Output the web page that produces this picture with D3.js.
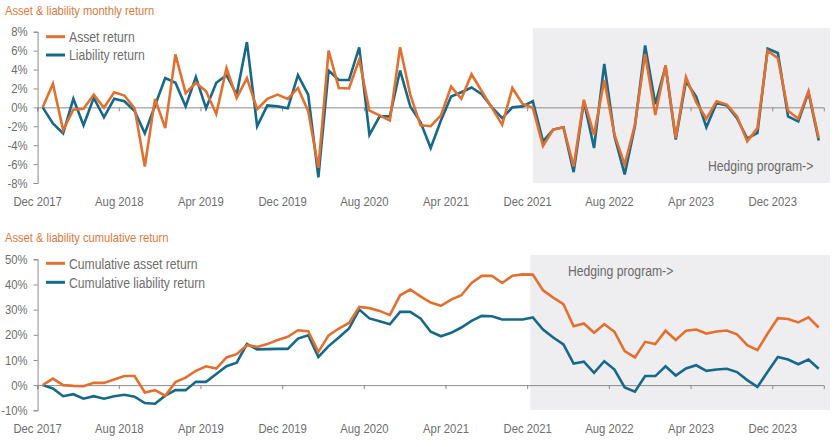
<!DOCTYPE html>
<html><head><meta charset="utf-8">
<script src="https://cdn.jsdelivr.net/npm/d3@7"></script>
<style>
html,body{margin:0;padding:0;background:#fff;}
text{font-family:"Liberation Sans",Arial,sans-serif;}
</style></head>
<body><svg id="c" width="836" height="447"></svg>
<script>
// ---- data ----
const months = d3.timeMonth.range(new Date(2017,11,1), new Date(2024,4,1)).map(d3.timeFormat("%b %Y"));
const tickLabels = ["Dec 2017","Aug 2018","Apr 2019","Dec 2019","Aug 2020","Apr 2021","Dec 2021","Aug 2022","Apr 2023","Dec 2023"];
const assetReturn = [0,2.5,-2.4,-0.25,-0.15,1.35,-0.05,1.6,1.25,-0.1,-6.25,0.9,-2.2,5.6,1.5,2.6,1.7,-0.7,4.15,1.0,3.1,-0.2,0.9,1.35,0.9,2.05,
 -0.4,-6.4,6.0,2.05,2.0,5.05,-0.35,-0.85,-1.4,6.35,1.35,-1.9,-2.0,-0.85,2.2,0.9,3.5,1.7,-0.05,-1.85,2.05,0.35,-0.05,-4.1,-2.35,-2.1,
 -6.25,0.8,-2.9,2.9,-2.9,-6.05,-1.85,5.65,-0.8,4.45,-3.25,3.2,0.55,-1.2,0.65,0.3,-0.95,-3.6,-2.2,6.0,5.2,-0.35,-1.2,1.7,-3.25];
const liabilityReturn = [0,-1.7,-2.75,0.9,-1.9,1.0,-1.05,0.9,0.65,-0.4,-2.75,0.2,3.1,2.6,0.1,3.2,-0.1,2.6,3.4,1.35,6.9,-2.0,0.2,0.1,-0.1,3.4,
 1.35,-7.4,3.9,2.9,2.9,6.35,-2.9,-0.95,-0.95,3.9,0.1,-1.55,-4.3,-1.4,1.15,1.6,2.1,1.4,0,-1.15,0,0.1,0.65,-3.6,-2.35,-2.1,
 -6.85,0.65,-4.3,4.6,-3.05,-7.1,-2.0,6.55,0.35,4.35,-3.4,2.75,1.15,-2.1,0.45,0.2,-1.15,-3.3,-2.7,6.2,5.75,-0.95,-1.5,1.6,-3.5];
const cumAsset = [0,2.6,0,-0.3,-0.4,0.9,0.9,2.2,3.6,3.6,-2.9,-2.0,-4.2,1.2,3.0,5.7,7.5,6.6,11.0,12.3,15.9,15.2,16.3,17.9,19.2,21.8,
 21.4,13.2,19.8,22.5,24.7,31.1,30.6,29.5,27.8,35.7,38.0,35.3,32.8,31.5,34.0,35.7,40.6,43.4,43.4,40.6,43.5,44.0,43.9,37.7,34.8,32.2,
 23.4,24.5,20.8,24.2,21.2,13.5,11.0,17.2,16.3,21.6,17.9,21.6,22.1,20.5,21.3,21.7,20.2,15.9,13.9,20.5,26.6,26.3,24.9,26.9,22.9];
const cumLiability = [0,-1.3,-4.4,-3.6,-5.4,-4.4,-5.4,-4.4,-3.8,-4.6,-7.1,-7.4,-4.2,-2.0,-2.0,1.3,1.3,4.4,7.5,8.9,16.3,14.2,14.3,14.4,14.4,18.5,
 19.8,11.2,15.5,18.9,22.5,30.0,26.5,25.4,24.2,29.1,29.1,26.5,21.2,19.4,20.8,22.9,25.5,27.5,27.4,26.1,26.1,26.1,26.9,22.1,18.9,16.2,
 8.6,9.3,4.9,9.5,6.2,-0.9,-2.6,3.6,3.6,7.5,3.8,6.6,7.9,5.7,6.2,6.5,5.2,2.0,-0.7,5.3,11.2,10.2,8.3,10.2,6.5];
const topTicks = [8,6,4,2,0,-2,-4,-6,-8];
const bottomTicks = [50,40,30,20,10,0,-10];
const hedgeStart = "Dec 2021";

// ---- style ----
const ORANGE = "#e2702f", BLUE = "#17698a", GREY_TXT = "#6e6e6e", AXIS = "#8c8c8c", SHADE = "#eeeef0";
const FONT = '"Liberation Sans",Arial,sans-serif';
const CONDENSE = 0.87;
const svg = d3.select("#c");
const x = d3.scaleBand().domain(months).range([37.6, 823.8]);
const cx = m => x(m) + x.bandwidth()/2;

function panel(o){
  const g = svg.append("g");
  const y = d3.scaleLinear().domain(o.domain).range(o.range);
  // title
  g.append("text").attr("x",5).attr("y",o.titleY).attr("fill","#e07a3c").attr("font-size",12.8).text(o.title);
  // shading
  g.append("rect").attr("x",cx(hedgeStart)+o.shadeDx).attr("y",o.shadeY[0]).attr("width",830-(cx(hedgeStart)+o.shadeDx))
    .attr("height",o.shadeY[1]-o.shadeY[0]).attr("fill",SHADE);
  g.append("text").attr("x",o.hedgeX).attr("y",o.hedgeY).attr("fill","#6a6a6a").attr("font-size",14).text("Hedging program->");
  // y axis
  const ya = g.append("g").attr("transform","translate(37.6,0)")
    .call(d3.axisLeft(y).tickValues(o.ticks).tickSize(4).tickPadding(6).tickFormat(d=>d+"%"));
  ya.select(".domain").attr("stroke",AXIS);
  ya.selectAll(".tick line").attr("stroke",AXIS);
  ya.selectAll("text").attr("fill",GREY_TXT).attr("font-size",13).attr("font-family",FONT);
  // zero axis with ticks
  const xa = g.append("g").attr("transform",`translate(0,${y(0)})`)
    .call(d3.axisBottom(x).tickValues(tickLabels).tickSizeOuter(0).tickSize(4).tickFormat(""));
  xa.select(".domain").attr("stroke",AXIS);
  xa.selectAll(".tick").attr("transform",d=>`translate(${x(d)},0)`);
  xa.selectAll(".tick line").attr("stroke",AXIS);
  // x labels at bottom
  g.selectAll(null).data(tickLabels).enter().append("text")
    .attr("x",d=>x(d)).attr("y",o.labelY).attr("text-anchor","middle")
    .attr("fill",GREY_TXT).attr("font-size",13).text(d=>d);
  // lines
  const line = d3.line().x((d,i)=>cx(months[i])).y(d=>y(d));
  g.append("path").datum(o.s2).attr("d",line).attr("fill","none").attr("stroke",BLUE).attr("stroke-width",2.6);
  g.append("path").datum(o.s1).attr("d",line).attr("fill","none").attr("stroke",ORANGE).attr("stroke-width",2.6);
  // legend
  [[o.n1,ORANGE,o.legY[0]],[o.n2,BLUE,o.legY[1]]].forEach(([n,c,ly])=>{
    g.append("line").attr("x1",46).attr("x2",65).attr("y1",ly).attr("y2",ly).attr("stroke",c).attr("stroke-width",3);
    g.append("text").attr("x",69).attr("y",ly+5.3).attr("fill",GREY_TXT).attr("font-size",14).text(n);
  });
}

panel({title:"Asset & liability monthly return", titleY:15, domain:[-8,8], range:[183,31.7], ticks:topTicks,
  shadeDx:0, shadeY:[28,183], hedgeX:708, hedgeY:171, labelY:206, s1:assetReturn, s2:liabilityReturn,
  n1:"Asset return", n2:"Liability return", legY:[36.7,55]});
panel({title:"Asset & liability cumulative return", titleY:241.5, domain:[-10,50], range:[410.3,259.3], ticks:bottomTicks,
  shadeDx:-2.5, shadeY:[255,410], hedgeX:568, hedgeY:276, labelY:432.5, s1:cumAsset, s2:cumLiability,
  n1:"Cumulative asset return", n2:"Cumulative liability return", legY:[263.3,282.3]});

// mimic the reference's narrow typeface by condensing glyphs horizontally
svg.selectAll("text").each(function(){
  const w = this.getComputedTextLength();
  d3.select(this).attr("textLength", (w*CONDENSE).toFixed(1)).attr("lengthAdjust","spacingAndGlyphs");
});
</script></body></html>
